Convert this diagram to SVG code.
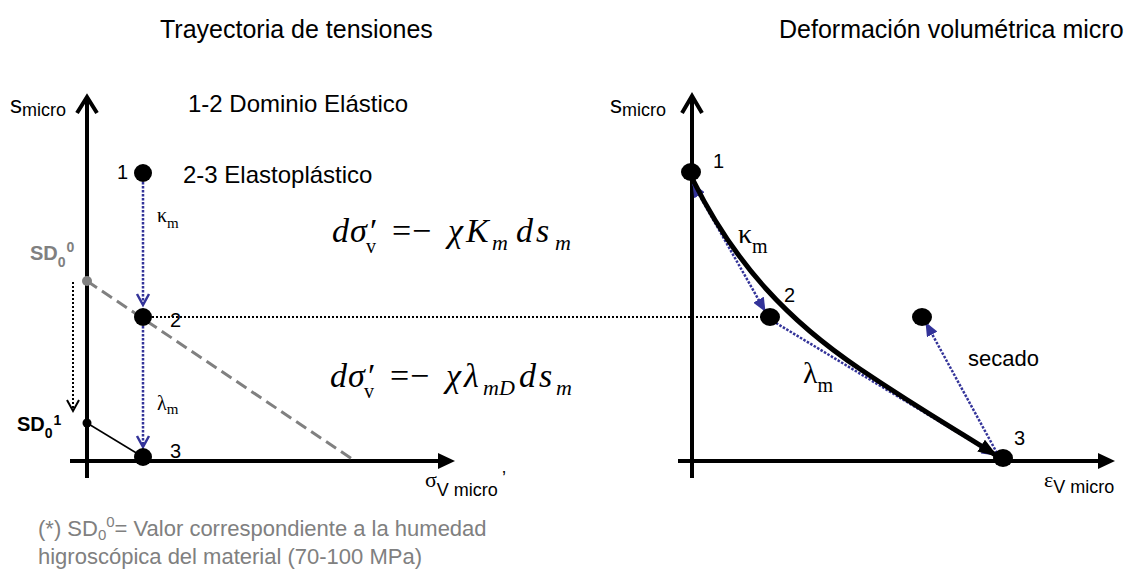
<svg xmlns="http://www.w3.org/2000/svg" width="1136" height="576" viewBox="0 0 1136 576">
<style>
.t{font-family:"Liberation Sans",Arial,sans-serif;fill:#000}
.g{fill:#808080}
.s{font-family:"Liberation Serif","Times New Roman",serif;fill:#000}
.eq{font-family:"Liberation Serif","Times New Roman",serif;font-style:italic;font-size:34px;fill:#000}
.up{font-style:normal}
.ax{stroke:#000;stroke-width:4;fill:none}
.blue{stroke:#333399;stroke-width:2.5;stroke-dasharray:2.5 1.5;fill:none}
.bdot{stroke:#000;stroke-width:2;stroke-dasharray:2 2;fill:none}
.head{stroke:#333399;stroke-width:2.5;fill:none}
</style>
<defs>
<marker id="tri" markerUnits="userSpaceOnUse" markerWidth="14" markerHeight="12" refX="13" refY="6" orient="auto-start-reverse"><path d="M0,0 L14,6 L0,12 z" fill="#333399"/></marker>
<marker id="btri" markerUnits="userSpaceOnUse" markerWidth="20" markerHeight="14" refX="19" refY="7" orient="auto"><path d="M0,0 L20,7 L0,14 z" fill="#000"/></marker>
</defs>

<text class="t" x="160" y="38" font-size="25">Trayectoria de tensiones</text>
<text class="t" x="779" y="38" font-size="25">Deformación volumétrica micro</text>

<g id="left-axes">
<line class="ax" x1="87" y1="478" x2="87" y2="98"/>
<polyline class="ax" points="77,113 87,97 97,113"/>
<line class="ax" x1="70" y1="461" x2="440" y2="461"/>
<path d="M438,453 L455,461 L438,469 z" fill="#000"/>
<text class="t" x="10" y="113" font-size="24">s<tspan font-size="18" dy="3">micro</tspan></text>
<text class="s" x="425" y="487" font-size="22">σ<tspan class="t" font-size="18" dy="9">V micro</tspan><tspan class="t" font-size="18" dy="-12" dx="4">’</tspan></text>
</g>

<g id="right-axes">
<line class="ax" x1="692" y1="478" x2="692" y2="98"/>
<polyline class="ax" points="682,113 692,96 702,113"/>
<line class="ax" x1="678" y1="461" x2="1100" y2="461"/>
<path d="M1098,453 L1115,461 L1098,469 z" fill="#000"/>
<text class="t" x="610" y="113" font-size="24">s<tspan font-size="18" dy="3">micro</tspan></text>
<text class="s" x="1044" y="487" font-size="22">ε<tspan class="t" font-size="18" dy="6">V micro</tspan></text>
</g>

<g id="connectors">
<line x1="87" y1="281" x2="355" y2="461" stroke="#808080" stroke-width="3" stroke-dasharray="12 6"/>
<line x1="87" y1="423" x2="143" y2="457" stroke="#000" stroke-width="1.5"/>
<line class="bdot" x1="152" y1="317" x2="762" y2="317"/>
<line class="bdot" x1="73" y1="282" x2="73" y2="409"/>
<polyline points="67,400 73,411 79,400" stroke="#000" stroke-width="2" fill="none"/>
<line class="blue" x1="143" y1="182" x2="143" y2="303"/>
<polyline class="head" points="137,294 143,305 149,294"/>
<line class="blue" x1="143" y1="326" x2="143" y2="445"/>
<polyline class="head" points="137,436 143,447 149,436"/>
<line class="blue" x1="693" y1="184" x2="765" y2="311" marker-start="url(#tri)" marker-end="url(#tri)"/>
<line class="blue" x1="776" y1="323" x2="995" y2="455" marker-end="url(#tri)"/>
<line class="blue" x1="997" y1="453" x2="926" y2="323" marker-end="url(#tri)"/>
<path d="M693,180 C735,265 790,322 860,369 S962,433 997,456" stroke="#000" stroke-width="5" fill="none" marker-end="url(#btri)"/>
</g>

<g id="sd00">
<circle cx="87" cy="281" r="5" fill="#808080"/>
<text class="t g" x="30" y="260" font-size="20" font-weight="bold">SD<tspan font-size="14" dy="7">0</tspan><tspan font-size="14" dy="-15" dx="1">0</tspan></text>
</g>
<g id="sd01">
<circle cx="87" cy="423" r="4.5" fill="#000"/>
<text class="t" x="17" y="431" font-size="20" font-weight="bold">SD<tspan font-size="14" dy="7">0</tspan><tspan font-size="14" dy="-13" dx="1">1</tspan></text>
</g>

<g id="L1"><circle cx="143" cy="173" r="9" fill="#000"/><text class="t" x="117" y="179" font-size="20">1</text></g>
<g id="L2"><circle cx="143" cy="317" r="9" fill="#000"/><text class="t" x="170" y="327" font-size="20">2</text></g>
<g id="L3"><circle cx="143" cy="457" r="9" fill="#000"/><text class="t" x="170" y="458" font-size="20">3</text></g>

<g id="R1"><ellipse cx="691" cy="172" rx="10" ry="9" fill="#000"/><text class="t" x="713" y="168" font-size="20">1</text></g>
<g id="R2"><ellipse cx="770" cy="317" rx="10" ry="9" fill="#000"/><text class="t" x="784" y="302" font-size="20">2</text></g>
<g id="R3"><ellipse cx="1003" cy="458" rx="10" ry="9" fill="#000"/><text class="t" x="1014" y="445" font-size="20">3</text></g>
<g id="R4"><ellipse cx="922" cy="317" rx="10" ry="9" fill="#000"/></g>

<text class="t" x="188" y="112" font-size="24">1-2 Dominio Elástico</text>
<text class="t" x="183" y="183" font-size="24">2-3 Elastoplástico</text>

<text class="s" x="157" y="222" font-size="20">κ<tspan font-size="15" dy="6">m</tspan></text>
<text class="s" x="157" y="410" font-size="20">λ<tspan font-size="15" dy="4">m</tspan></text>
<text class="s" x="738" y="243" font-size="28">κ<tspan font-size="20" dy="10">m</tspan></text>
<text class="s" x="803" y="383" font-size="30">λ<tspan font-size="20" dy="9">m</tspan></text>
<text class="t" x="968" y="366" font-size="22">secado</text>

<text class="eq" y="242"><tspan x="332">d</tspan><tspan x="350">σ</tspan><tspan x="370" class="up">′</tspan><tspan x="366" y="253" class="up" font-size="20">v</tspan><tspan x="392" y="242" class="up">=</tspan><tspan x="412" class="up">−</tspan><tspan x="448">χ</tspan><tspan x="466">K</tspan><tspan x="492" y="250" font-size="22">m</tspan><tspan x="516" y="242">d</tspan><tspan x="536">s</tspan><tspan x="555" y="250" font-size="22">m</tspan></text>
<text class="eq" y="387"><tspan x="330">d</tspan><tspan x="348">σ</tspan><tspan x="368" class="up">′</tspan><tspan x="364" y="398" class="up" font-size="20">v</tspan><tspan x="390" y="387" class="up">=</tspan><tspan x="410" class="up">−</tspan><tspan x="446">χ</tspan><tspan x="464">λ</tspan><tspan x="483" y="395" font-size="22">mD</tspan><tspan x="519" y="387">d</tspan><tspan x="539">s</tspan><tspan x="556" y="395" font-size="22">m</tspan></text>

<text class="t g" x="38" y="536" font-size="22">(*) SD<tspan font-size="15" dy="4">0</tspan><tspan font-size="15" dy="-13">0</tspan><tspan dy="9">= Valor correspondiente a la humedad</tspan></text>
<text class="t g" x="38" y="564" font-size="22">higroscópica del material (70-100 MPa)</text>
</svg>
